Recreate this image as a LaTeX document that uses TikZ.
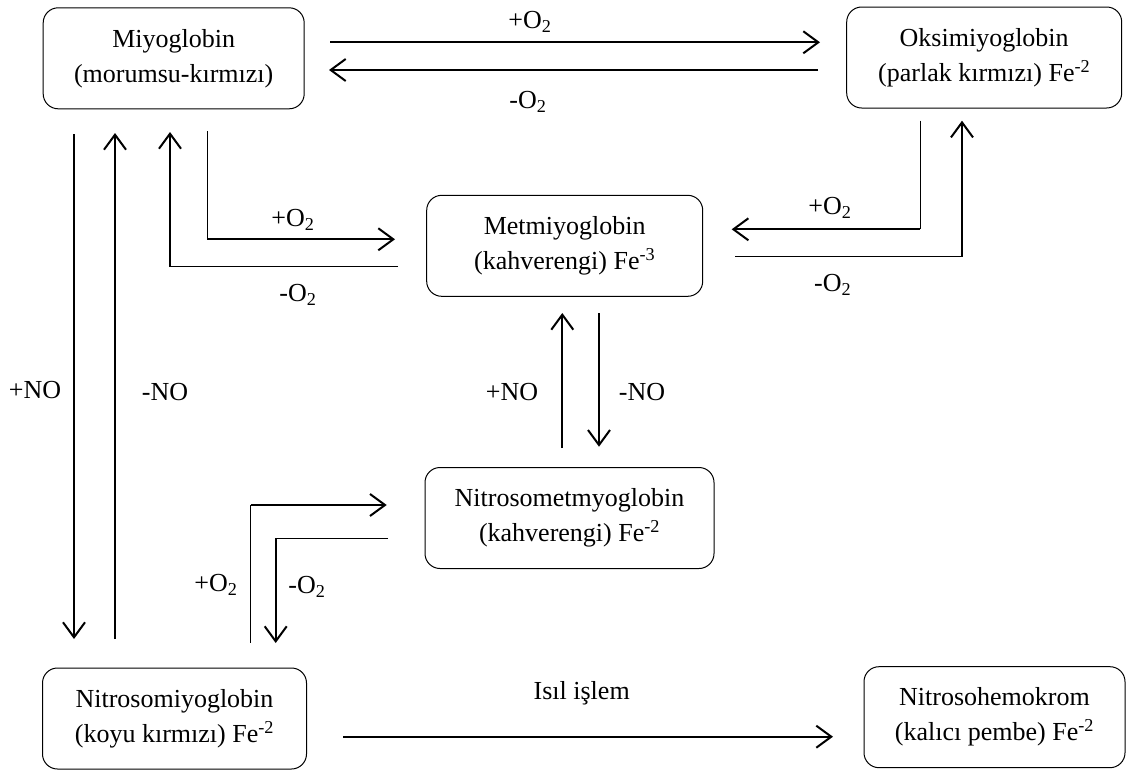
\documentclass[tikz,border=0pt]{standalone}
\usepackage{fontspec}
\setmainfont{Liberation Serif}
\usetikzlibrary{arrows.meta}
\tikzset{
  box/.style={draw=black, line width=1pt, rounded corners=15pt, minimum height=101pt,
    inner sep=0pt, align=center, font=\fontsize{26}{35}\selectfont},
  lbl/.style={inner sep=0pt, font=\fontsize{26}{35}\selectfont},
  thk/.style={line width=2.2pt},
  thn/.style={line width=1pt},
  arr/.style={thk, -{Straight Barb[length=15pt,width=22pt,line width=2pt]}},
}
\begin{document}
\begin{tikzpicture}[x=1pt,y=-1pt]
\useasboundingbox (0,0) rectangle (1128,771);
% boxes
\node[box, minimum width=261pt] (mio) at (173.7,58.3) {Miyoglobin\\(morumsu-kırmızı)};
\node[box, minimum width=275pt] (oksi) at (984.2,57.5) {Oksimiyoglobin\\(parlak kırmızı) Fe\textsuperscript{-2}};
\node[box, minimum width=276pt] (met) at (564.7,245.8) {Metmiyoglobin\\(kahverengi) Fe\textsuperscript{-3}};
\node[box, minimum width=289pt] (nmet) at (569.5,518) {Nitrosometmyoglobin\\(kahverengi) Fe\textsuperscript{-2}};
\node[box, minimum width=264pt] (nmio) at (174.5,718.5) {Nitrosomiyoglobin\\(koyu kırmızı) Fe\textsuperscript{-2}};
\node[box, minimum width=261pt] (nhem) at (994.5,717.2) {Nitrosohemokrom\\(kalıcı pembe) Fe\textsuperscript{-2}};
% coordinates
\coordinate (a1s) at (330,42.3);  \coordinate (a1e) at (820,42.3);
\coordinate (a2s) at (818,70);    \coordinate (a2e) at (329,70);
\coordinate (a3s) at (74,134);    \coordinate (a3e) at (74,639);
\coordinate (a4s) at (115,639);   \coordinate (a4e) at (115,133);
\coordinate (a5s) at (207,131);   \coordinate (a5k) at (207,239.3);  \coordinate (a5e) at (395,239.3);
\coordinate (a6s) at (398,266.7); \coordinate (a6k) at (170,266.7);  \coordinate (a6e) at (170,132);
\coordinate (a7s) at (920,120.7); \coordinate (a7k) at (920,229.3);  \coordinate (a7e) at (731.7,229.3);
\coordinate (a8s) at (735,256.7); \coordinate (a8k) at (962,256.7);  \coordinate (a8e) at (962,120.7);
\coordinate (a9s) at (562.3,448); \coordinate (a9e) at (562.3,313);
\coordinate (b1s) at (599,313);   \coordinate (b1e) at (599,446.7);
\coordinate (b2s) at (250.7,642.7); \coordinate (b2k) at (250.7,505); \coordinate (b2e) at (386.7,505);
\coordinate (b3s) at (388,538.3); \coordinate (b3k) at (275.7,538.3); \coordinate (b3e) at (275.7,643);
\coordinate (b4s) at (343,736.7); \coordinate (b4e) at (833,736.7);
% connectors
\draw[arr] (a1s) -- (a1e);
\draw[arr] (a2s) -- (a2e);
\draw[arr] (a3s) -- (a3e);
\draw[arr] (a4s) -- (a4e);
\draw[thn] (a5s) -- (a5k); \draw[arr] (a5k) -- (a5e);
\draw[thn] (a6s) -- (a6k); \draw[arr] (a6k) -- (a6e);
\draw[thn] (a7s) -- (a7k); \draw[arr] (a7k) -- (a7e);
\draw[thn] (a8s) -- (a8k); \draw[arr] (a8k) -- (a8e);
\draw[arr] (a9s) -- (a9e);
\draw[arr] (b1s) -- (b1e);
\draw[thn] (b2s) -- (b2k); \draw[arr] (b2k) -- (b2e);
\draw[thn] (b3s) -- (b3k); \draw[arr] (b3k) -- (b3e);
\draw[arr] (b4s) -- (b4e);
% labels
\node[lbl] (l1) at (530,22) {+O\textsubscript{2}};
\node[lbl] (l2) at (528,102) {-O\textsubscript{2}};
\node[lbl] (l3) at (35,390) {+NO};
\node[lbl] (l4) at (165,392) {-NO};
\node[lbl] (l5) at (293,220) {+O\textsubscript{2}};
\node[lbl] (l6) at (298,295) {-O\textsubscript{2}};
\node[lbl] (l7) at (830,208) {+O\textsubscript{2}};
\node[lbl] (l8) at (832.7,285) {-O\textsubscript{2}};
\node[lbl] (l9) at (512,392) {+NO};
\node[lbl] (l10) at (642,392) {-NO};
\node[lbl] (l11) at (216,585) {+O\textsubscript{2}};
\node[lbl] (l12) at (307,587) {-O\textsubscript{2}};
\node[lbl] (l13) at (581.7,693) {Isıl işlem};
\end{tikzpicture}
\end{document}
